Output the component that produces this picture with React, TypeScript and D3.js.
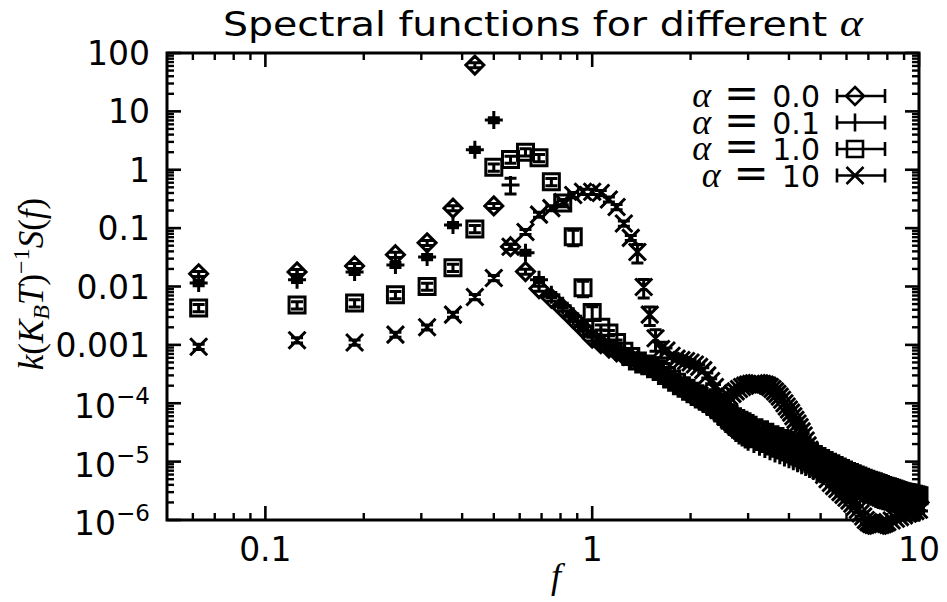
import React from 'react';
import * as d3 from 'd3';

const W = 947;
const H = 602;

// ---------- data: [f, value, relative error?] ----------
const ALPHA_00: number[][] = [
  [0.0625, 0.0165, 0.1], [0.125, 0.0178, 0.1], [0.1875, 0.0225, 0.1], [0.25, 0.035, 0.1],
  [0.3125, 0.056, 0.1], [0.375, 0.22, 0.1], [0.4375, 62, 0.1], [0.5, 0.24, 0.1],
  [0.5625, 0.048, 0.1], [0.625, 0.018, 0.1], [0.6875, 0.0092, 0.1],
  [0.75, 0.0063], [0.8125, 0.0042], [0.875, 0.0028], [0.9375, 0.0019], [1.0, 0.0013],
  [1.0625, 0.00105], [1.125, 0.00088], [1.1875, 0.00076], [1.25, 0.00066], [1.3125, 0.00059],
  [1.375, 0.00053], [1.4375, 0.00047], [1.5, 0.00043], [1.5625, 0.00038], [1.625, 0.00033],
  [1.6875, 0.00029], [1.75, 0.00025], [1.8125, 0.00022], [1.875, 0.00019], [1.9375, 0.00017],
  [2.0, 0.00015], [2.0625, 0.000135], [2.125, 0.00012], [2.1875, 0.000105], [2.25, 0.000095],
  [2.3125, 0.000085], [2.375, 0.000076], [2.4375, 0.000068], [2.5, 0.000062], [2.5625, 0.000057],
  [2.625, 0.000052], [2.6875, 0.000048], [2.75, 0.000044], [2.8125, 0.00004], [2.875, 0.000037],
  [2.9375, 0.000034], [3.0, 0.000032], [3.125, 0.000029], [3.25, 0.000026],
  [3.375, 0.000023], [3.5, 0.000021], [3.625, 0.000019], [3.75, 0.000018], [3.875, 0.0000165],
  [4.0, 0.000015], [4.125, 0.0000138], [4.25, 0.0000126], [4.375, 0.0000115], [4.5, 0.0000106],
  [4.625, 0.0000099], [4.75, 0.0000092], [4.875, 0.0000086], [5.0, 0.000008], [5.125, 0.0000076],
  [5.25, 0.0000071], [5.375, 0.0000066], [5.5, 0.0000062], [5.625, 0.0000059], [5.75, 0.0000056],
  [5.875, 0.0000053], [6.0, 0.000005], [6.125, 0.0000048], [6.25, 0.0000046], [6.375, 0.0000044],
  [6.5, 0.0000042], [6.625, 0.00000405], [6.75, 0.0000039], [6.875, 0.00000375], [7.0, 0.0000036],
  [7.125, 0.0000035], [7.25, 0.0000034], [7.375, 0.0000033], [7.5, 0.0000032], [7.625, 0.0000031],
  [7.75, 0.000003], [7.875, 0.0000029], [8.0, 0.0000028], [8.125, 0.00000275], [8.25, 0.0000027],
  [8.375, 0.00000265], [8.5, 0.0000026], [8.625, 0.00000255], [8.75, 0.0000025], [8.875, 0.00000245],
  [9.0, 0.0000024], [9.125, 0.00000235], [9.25, 0.0000023], [9.375, 0.00000225], [9.5, 0.0000022],
  [9.625, 0.00000215], [9.75, 0.0000021], [9.875, 0.00000205], [10.0, 0.000002],
];

const ALPHA_01: number[][] = [
  [0.0625, 0.0115, 0.1], [0.125, 0.013, 0.1], [0.1875, 0.0178, 0.1], [0.25, 0.0234, 0.1],
  [0.3125, 0.032, 0.1], [0.375, 0.113, 0.1], [0.4375, 2.2, 0.1], [0.5, 7.1, 0.1],
  [0.5625, 0.55, 0.3], [0.625, 0.038, 0.1], [0.6875, 0.013, 0.1],
  [0.75, 0.0072], [0.8125, 0.0047], [0.875, 0.0031], [0.9375, 0.0021], [1.0, 0.0015],
  [1.0625, 0.0011], [1.125, 0.00092], [1.1875, 0.00079], [1.25, 0.00068], [1.3125, 0.0006],
  [1.375, 0.00052], [1.4375, 0.00046], [1.5, 0.00041], [1.5625, 0.00036], [1.625, 0.00031],
  [1.6875, 0.00027], [1.75, 0.00024], [1.8125, 0.00021], [1.875, 0.00018], [1.9375, 0.00016],
  [2.0, 0.00014], [2.0625, 0.000125], [2.125, 0.00011], [2.1875, 0.000097], [2.25, 0.000086],
  [2.3125, 0.000076], [2.375, 0.000067], [2.4375, 0.000058], [2.5, 0.00005], [2.5625, 0.000044],
  [2.625, 0.000039], [2.6875, 0.000035], [2.75, 0.000031], [2.8125, 0.000028], [2.875, 0.000026],
  [2.9375, 0.000024], [3.0, 0.000022], [3.125, 0.00002], [3.25, 0.000018],
  [3.375, 0.0000165], [3.5, 0.000015], [3.625, 0.0000138], [3.75, 0.0000128], [3.875, 0.0000118],
  [4.0, 0.000011], [4.125, 0.0000101], [4.25, 0.0000094], [4.375, 0.0000087], [4.5, 0.0000081],
  [4.625, 0.0000075], [4.75, 0.000007], [4.875, 0.0000065], [5.0, 0.0000061], [5.125, 0.0000057],
  [5.25, 0.0000053], [5.375, 0.000005], [5.5, 0.0000047], [5.625, 0.00000445], [5.75, 0.0000042],
  [5.875, 0.000004], [6.0, 0.0000038], [6.125, 0.0000036], [6.25, 0.0000034], [6.375, 0.00000325],
  [6.5, 0.0000031], [6.625, 0.00000295], [6.75, 0.0000028], [6.875, 0.0000027], [7.0, 0.0000026],
  [7.125, 0.0000025], [7.25, 0.0000024], [7.375, 0.0000023], [7.5, 0.0000022], [7.625, 0.00000215],
  [7.75, 0.0000021], [7.875, 0.00000205], [8.0, 0.000002], [8.125, 0.00000195], [8.25, 0.0000019],
  [8.375, 0.00000185], [8.5, 0.0000018], [8.625, 0.00000175], [8.75, 0.0000017], [8.875, 0.0000017],
  [9.0, 0.00000165], [9.125, 0.00000162], [9.25, 0.0000016], [9.375, 0.00000157], [9.5, 0.00000153],
  [9.625, 0.0000015], [9.75, 0.00000148], [9.875, 0.00000145], [10.0, 0.00000142],
];

const ALPHA_10: number[][] = [
  [0.0625, 0.0043, 0.14], [0.125, 0.0048, 0.14], [0.1875, 0.0052, 0.14], [0.25, 0.0072, 0.14],
  [0.3125, 0.01, 0.14], [0.375, 0.021, 0.14], [0.4375, 0.097, 0.14], [0.5, 1.1, 0.14],
  [0.5625, 1.5, 0.14], [0.625, 2.0, 0.14], [0.6875, 1.6, 0.14], [0.75, 0.62, 0.14],
  [0.8125, 0.27, 0.14], [0.875, 0.071, 0.3], [0.9375, 0.0095, 0.3], [1.0, 0.0036, 0.25],
  [1.0625, 0.002], [1.125, 0.0016], [1.1875, 0.0011], [1.25, 0.00078], [1.3125, 0.00063],
  [1.375, 0.00053], [1.4375, 0.00047], [1.5, 0.00044], [1.5625, 0.00039], [1.625, 0.00035],
  [1.6875, 0.0003], [1.75, 0.00026], [1.8125, 0.00023], [1.875, 0.0002], [1.9375, 0.00018],
  [2.0, 0.00016], [2.0625, 0.000145], [2.125, 0.00013], [2.1875, 0.000118], [2.25, 0.000108],
  [2.3125, 0.000099], [2.375, 0.00009], [2.4375, 0.000082], [2.5, 0.000075], [2.5625, 0.000069],
  [2.625, 0.000064], [2.6875, 0.000059], [2.75, 0.000055], [2.8125, 0.000051], [2.875, 0.000048],
  [2.9375, 0.000045], [3.0, 0.000042], [3.125, 0.000038], [3.25, 0.000035],
  [3.375, 0.000032], [3.5, 0.000029], [3.625, 0.000027], [3.75, 0.000025], [3.875, 0.000023],
  [4.0, 0.000021], [4.125, 0.0000195], [4.25, 0.000018], [4.375, 0.0000166], [4.5, 0.0000154],
  [4.625, 0.0000143], [4.75, 0.0000132], [4.875, 0.0000122], [5.0, 0.0000113], [5.125, 0.0000105],
  [5.25, 0.0000098], [5.375, 0.0000092], [5.5, 0.0000086], [5.625, 0.0000081], [5.75, 0.0000076],
  [5.875, 0.0000072], [6.0, 0.0000068], [6.125, 0.0000065], [6.25, 0.0000062], [6.375, 0.0000059],
  [6.5, 0.0000057], [6.625, 0.0000054], [6.75, 0.0000052], [6.875, 0.000005], [7.0, 0.0000048],
  [7.125, 0.00000465], [7.25, 0.0000045], [7.375, 0.00000435], [7.5, 0.0000042], [7.625, 0.00000405],
  [7.75, 0.0000039], [7.875, 0.0000038], [8.0, 0.0000037], [8.125, 0.0000036], [8.25, 0.0000035],
  [8.375, 0.0000034], [8.5, 0.0000033], [8.625, 0.0000032], [8.75, 0.0000031], [8.875, 0.00000305],
  [9.0, 0.000003], [9.125, 0.00000295], [9.25, 0.0000029], [9.375, 0.00000285], [9.5, 0.0000028],
  [9.625, 0.00000275], [9.75, 0.0000027], [9.875, 0.00000265], [10.0, 0.0000026],
];

const ALPHA_100: number[][] = [
  [0.0625, 0.00093, 0.1], [0.125, 0.0012, 0.1], [0.1875, 0.0011, 0.1], [0.25, 0.0015, 0.1],
  [0.3125, 0.002, 0.1], [0.375, 0.0033, 0.1], [0.4375, 0.0066, 0.1], [0.5, 0.014, 0.1],
  [0.5625, 0.048, 0.1], [0.625, 0.086, 0.1], [0.6875, 0.17, 0.1], [0.75, 0.22, 0.1],
  [0.8125, 0.28, 0.1], [0.875, 0.37, 0.1], [0.9375, 0.42, 0.1], [1.0, 0.42, 0.1],
  [1.0625, 0.4, 0.1], [1.125, 0.31, 0.1], [1.1875, 0.23, 0.1], [1.25, 0.12, 0.1],
  [1.3125, 0.068, 0.1], [1.375, 0.039, 0.35], [1.4375, 0.0098, 0.35], [1.5, 0.0033, 0.35],
  [1.5625, 0.0013, 0.4], [1.625, 0.00085, 0.3],
  [1.6875, 0.0008], [1.75, 0.00065], [1.8125, 0.00058], [1.875, 0.00055], [1.9375, 0.00053],
  [2.0, 0.0005], [2.0625, 0.00046], [2.125, 0.00042], [2.1875, 0.00037], [2.25, 0.0003],
  [2.3125, 0.00024], [2.375, 0.00019], [2.4375, 0.00015], [2.5, 0.000125], [2.5625, 0.00012],
  [2.625, 0.00013], [2.6875, 0.000145], [2.75, 0.00016], [2.8125, 0.000175], [2.875, 0.00019],
  [2.9375, 0.0002], [3.0, 0.00021], [3.0625, 0.000215], [3.125, 0.00022], [3.1875, 0.000222],
  [3.25, 0.00022], [3.3125, 0.000215], [3.375, 0.00021], [3.4375, 0.0002], [3.5, 0.00019],
  [3.5625, 0.000175], [3.625, 0.00016], [3.6875, 0.000145], [3.75, 0.00013], [3.8125, 0.000115],
  [3.875, 0.0001], [3.9375, 0.000088], [4.0, 0.000078], [4.0625, 0.000069], [4.125, 0.00006],
  [4.1875, 0.000052], [4.25, 0.000045], [4.3125, 0.000039], [4.375, 0.000033], [4.4375, 0.000028],
  [4.5, 0.000023], [4.5625, 0.000019], [4.625, 0.000016], [4.6875, 0.0000135], [4.75, 0.000011],
  [4.875, 0.0000088], [5.0, 0.000007], [5.125, 0.0000059], [5.25, 0.000005], [5.375, 0.0000043],
  [5.5, 0.0000038], [5.625, 0.0000034], [5.75, 0.000003], [5.875, 0.0000027], [6.0, 0.0000024],
  [6.125, 0.00000215], [6.25, 0.0000019], [6.375, 0.0000017], [6.5, 0.0000015], [6.625, 0.0000013],
  [6.75, 0.00000115], [6.875, 0.000001], [7.0, 0.00000092], [7.125, 0.00000086], [7.25, 0.00000082],
  [7.375, 0.0000008], [7.5, 0.0000008], [7.625, 0.00000082], [7.75, 0.00000085], [7.875, 0.00000088],
  [8.0, 0.00000092], [8.25, 0.00000098], [8.5, 0.00000105], [8.75, 0.00000112], [9.0, 0.0000012],
  [9.25, 0.00000128], [9.5, 0.00000135], [9.75, 0.00000142], [10.0, 0.0000015],
];

const SERIES_LABELS = ['0.0', '0.1', '1.0', '10'];
const SERIES_SYMBOLS = ['diamond', 'plus', 'square', 'cross'];
const SERIES_DATA = [ALPHA_00, ALPHA_01, ALPHA_10, ALPHA_100];

const X_TICKS = [0.1, 1, 10];
const X_TICK_LABELS = ['0.1', '1', '10'];
const Y_TICKS = [100, 10, 1, 0.1, 0.01, 0.001, 1e-4, 1e-5, 1e-6];
const Y_TICK_BASES = ['100', '10', '1', '0.1', '0.01', '0.001', '10', '10', '10'];
const Y_TICK_EXPS = ['', '', '', '', '', '', '−4', '−5', '−6'];

const DEFAULT_REL_ERR = 0.1;

// ---------- layout ----------
const X0 = 167, X1 = 919, Y0 = 520, Y1 = 53;
const SANS = 'DejaVu Sans';
const SERIF = 'Liberation Serif';

const x = d3.scaleLog().domain([0.05, 10]).range([X0, X1]);
const y = d3.scaleLog().domain([1e-6, 100]).range([Y0, Y1]);

function symbolPath(kind: string, cx: number, cy: number): string {
  switch (kind) {
    case 'diamond': {
      const r = 9;
      return `M${cx},${cy - r}L${cx + r},${cy}L${cx},${cy + r}L${cx - r},${cy}Z`;
    }
    case 'square': {
      const r = 8;
      return `M${cx - r},${cy - r}H${cx + r}V${cy + r}H${cx - r}Z`;
    }
    case 'plus': {
      const r = 9;
      return `M${cx - r},${cy}H${cx + r}M${cx},${cy - r}V${cy + r}`;
    }
    default: {
      const r = 8.5;
      return `M${cx - r},${cy - r}L${cx + r},${cy + r}M${cx - r},${cy + r}L${cx + r},${cy - r}`;
    }
  }
}

function minorTicks(domain: [number, number]): number[] {
  const out: number[] = [];
  for (let e = -7; e <= 2; e++) {
    for (let m = 2; m <= 9; m++) {
      const v = m * Math.pow(10, e);
      if (v > domain[0] * 1.0001 && v < domain[1] * 0.9999) out.push(v);
    }
  }
  return out;
}

export default function App() {
  const xMinor = minorTicks([0.05, 10]);
  const yMinor = minorTicks([1e-6, 100]);
  const MAJ = 14, MIN = 7;
  const capW = 6;

  const pointPaths = SERIES_DATA.map((data, si) => {
    const kind = SERIES_SYMBOLS[si];
    let d = '';
    data.forEach((p) => {
      const f = p[0], v = p[1];
      const e = p.length > 2 ? p[2] : DEFAULT_REL_ERR;
      const cx = x(f), cy = y(v);
      d += symbolPath(kind, cx, cy);
      const yt = y(v * (1 + e)), yb = y(v * (1 - e));
      d += `M${cx},${yt}V${yb}M${cx - capW},${yt}H${cx + capW}M${cx - capW},${yb}H${cx + capW}`;
    });
    return d;
  });

  const legendY = [96, 122.5, 149, 175.5];

  return (
    <svg width={W} height={H} style={{ position: 'absolute', left: 0, top: 0, background: '#fff' }}
      xmlns="http://www.w3.org/2000/svg">
      <rect x={0} y={0} width={W} height={H} fill="#fff" />
      {/* title */}
      <text x={543} y={36} textAnchor="middle" fontFamily={SANS} fontSize={34} fill="#000"
        textLength={640} lengthAdjust="spacingAndGlyphs">
        Spectral functions for different{' '}
        <tspan fontFamily={SERIF} fontStyle="italic" fontSize={38}>α</tspan>
      </text>

      {/* data */}
      {pointPaths.map((d, i) => (
        <path key={i} d={d} fill="none" stroke="#000" strokeWidth={3} />
      ))}

      {/* frame */}
      <rect x={X0} y={Y1} width={X1 - X0} height={Y0 - Y1} fill="none" stroke="#000" strokeWidth={3} />
      {X_TICKS.map((t) => (
        <g key={'xt' + t}>
          <line x1={x(t)} x2={x(t)} y1={Y0} y2={Y0 - MAJ} stroke="#000" strokeWidth={2.6} />
          <line x1={x(t)} x2={x(t)} y1={Y1} y2={Y1 + MAJ} stroke="#000" strokeWidth={2.6} />
        </g>
      ))}
      {xMinor.map((t) => (
        <g key={'xm' + t}>
          <line x1={x(t)} x2={x(t)} y1={Y0} y2={Y0 - MIN} stroke="#000" strokeWidth={2.4} />
          <line x1={x(t)} x2={x(t)} y1={Y1} y2={Y1 + MIN} stroke="#000" strokeWidth={2.4} />
        </g>
      ))}
      {Y_TICKS.map((t) => (
        <g key={'yt' + t}>
          <line x1={X0} x2={X0 + MAJ} y1={y(t)} y2={y(t)} stroke="#000" strokeWidth={2.6} />
          <line x1={X1} x2={X1 - MAJ} y1={y(t)} y2={y(t)} stroke="#000" strokeWidth={2.6} />
        </g>
      ))}
      {yMinor.map((t) => (
        <g key={'ym' + t}>
          <line x1={X0} x2={X0 + MIN} y1={y(t)} y2={y(t)} stroke="#000" strokeWidth={2.4} />
          <line x1={X1} x2={X1 - MIN} y1={y(t)} y2={y(t)} stroke="#000" strokeWidth={2.4} />
        </g>
      ))}

      {/* x tick labels */}
      {X_TICKS.map((t, i) => (
        <text key={'xl' + t} x={x(t)} y={561} textAnchor="middle" fontFamily={SANS} fontSize={33} fill="#000">
          {X_TICK_LABELS[i]}
        </text>
      ))}
      {/* y tick labels */}
      {Y_TICKS.map((t, i) => (
        <text key={'yl' + t} x={150} y={y(t) + (Y_TICK_EXPS[i] ? 15 : 12)} textAnchor="end"
          fontFamily={SANS} fontSize={33} fill="#000">
          {Y_TICK_BASES[i]}
          {Y_TICK_EXPS[i] ? <tspan dy={-14} fontSize={23}>{Y_TICK_EXPS[i]}</tspan> : null}
        </text>
      ))}

      {/* axis titles */}
      <text x={556} y={588} textAnchor="middle" fontFamily={SERIF} fontStyle="italic" fontSize={36} fill="#000">f</text>
      <text transform="translate(43,284) rotate(-90)" textAnchor="middle" fontFamily={SERIF} fontSize={35} fill="#000">
        <tspan fontStyle="italic">k</tspan>(<tspan fontStyle="italic">K</tspan>
        <tspan fontStyle="italic" fontSize={24} dy={6}>B</tspan>
        <tspan fontStyle="italic" dy={-6}>T</tspan>)
        <tspan fontSize={24} dy={-14}>−1</tspan>
        <tspan fontStyle="italic" dy={14}>S</tspan>(<tspan fontStyle="italic">f</tspan>)
      </text>

      {/* legend */}
      {SERIES_LABELS.map((lab, i) => {
        const ly = legendY[i];
        return (
          <g key={'lg' + i}>
            <text x={820} y={ly + 11} textAnchor="end" fontFamily={SANS} fontSize={30} fill="#000">
              <tspan fontFamily={SERIF} fontStyle="italic" fontSize={36}>α</tspan>
              <tspan dx={13} fontSize={42}>=</tspan>
              <tspan dx={13}>{lab}</tspan>
            </text>
            <path
              d={`M837,${ly}H885M837,${ly - 7}V${ly + 7}M885,${ly - 7}V${ly + 7}` + symbolPath(SERIES_SYMBOLS[i], 855, ly)}
              fill="none" stroke="#000" strokeWidth={2.6} />
          </g>
        );
      })}
    </svg>
  );
}
